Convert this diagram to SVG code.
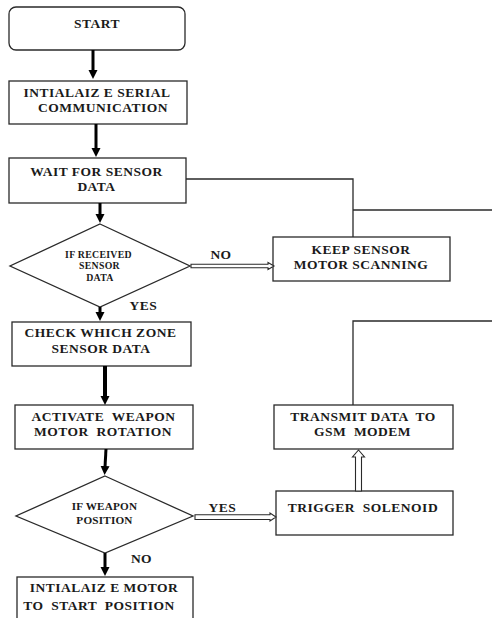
<svg xmlns="http://www.w3.org/2000/svg" width="492" height="618" viewBox="0 0 492 618">
<style>
.box{fill:#fff;stroke:#2a2a2a;stroke-width:1.3}
.t{font-family:"Liberation Serif","Times New Roman",serif;font-weight:bold;font-size:13.5px;letter-spacing:0.5px;fill:#1a1a1a;text-anchor:middle;white-space:pre}
.s{font-size:9.8px;letter-spacing:0.3px}
.m{font-size:11.2px;letter-spacing:0.2px}
.ln{fill:none;stroke:#2a2a2a;stroke-width:1.3}
.ar{stroke:#000;stroke-width:3;fill:none}
.hol{fill:#fff;stroke:#2a2a2a;stroke-width:1.1}
</style>
<defs>
<marker id="ah" markerUnits="userSpaceOnUse" markerWidth="10" markerHeight="10" refX="1" refY="4.5" orient="auto">
<path d="M0,0 L9,4.5 L0,9 z" fill="#000"/>
</marker>
</defs>
<rect width="492" height="618" fill="#fff"/>
<g id="start"><rect class="box" x="9" y="7" width="176" height="43" rx="7"/><text class="t" x="97" y="28">START</text></g>
<g id="init-serial"><rect class="box" x="9" y="81" width="178" height="43"/><text class="t" x="97" y="97">INTIALAIZ E SERIAL</text><text class="t" x="103" y="112">COMMUNICATION</text></g>
<g id="wait"><rect class="box" x="9" y="158" width="177" height="45"/><text class="t" x="96.5" y="176">WAIT FOR SENSOR</text><text class="t" x="96.5" y="191">DATA</text></g>
<g id="if-received"><polygon class="box" points="100,224 190,266 100,307 10,266"/><text class="t s" x="98.5" y="258">IF RECEIVED</text><text class="t s" x="99.5" y="269">SENSOR</text><text class="t s" x="100" y="280.5">DATA</text></g>
<g id="keep"><rect class="box" x="273" y="237" width="177" height="44"/><text class="t" x="361" y="254">KEEP SENSOR</text><text class="t" x="361" y="269">MOTOR SCANNING</text></g>
<g id="check"><rect class="box" x="12" y="322" width="179" height="44"/><text class="t" x="100.5" y="337">CHECK WHICH ZONE</text><text class="t" x="101" y="353">SENSOR DATA</text></g>
<g id="activate"><rect class="box" x="15" y="405" width="178" height="44"/><text class="t" x="103.5" y="421">ACTIVATE  WEAPON</text><text class="t" x="103" y="436">MOTOR  ROTATION</text></g>
<g id="transmit"><rect class="box" x="274" y="405" width="179" height="44"/><text class="t" x="363" y="421">TRANSMIT DATA  TO</text><text class="t" x="362.5" y="436">GSM  MODEM</text></g>
<g id="if-weapon"><polygon class="box" points="105,476 193,516 105,553 16,516"/><text class="t m" x="104.5" y="510">IF WEAPON</text><text class="t m" x="104.5" y="523.5">POSITION</text></g>
<g id="trigger"><rect class="box" x="276" y="491" width="177" height="44"/><text class="t" x="363" y="511.5">TRIGGER  SOLENOID</text></g>
<g id="init-motor"><rect class="box" x="17" y="577" width="176" height="60"/><text class="t" x="104" y="592">INTIALAIZ E MOTOR</text><text class="t" x="99" y="609.5">TO  START  POSITION</text></g>
<g id="connectors">
<line class="ar" x1="93" y1="50" x2="93" y2="71" marker-end="url(#ah)"/>
<line class="ar" x1="96" y1="124" x2="96" y2="149" marker-end="url(#ah)"/>
<line class="ar" x1="100" y1="203" x2="100" y2="215" marker-end="url(#ah)"/>
<line class="ar" x1="100" y1="307" x2="100" y2="313" marker-end="url(#ah)"/>
<line class="ar" x1="105" y1="366" x2="105" y2="397" marker-end="url(#ah)" style="stroke-width:4"/>
<line class="ar" x1="106" y1="449" x2="105" y2="467" marker-end="url(#ah)"/>
<line class="ar" x1="105" y1="553" x2="105" y2="568" marker-end="url(#ah)"/>
<polyline class="ln" points="186,179 353,179 353,237"/>
<line class="ln" x1="353" y1="210" x2="492" y2="210"/>
<polyline class="ln" points="353,405 353,321 492,321"/>
<polygon class="hol" points="191,264.3 268,264.3 268,262.5 274,266 268,269.5 268,267.7 191,267.7"/>
<polygon class="hol" points="195,514.8 270,514.8 270,513 276,517 270,521 270,519.5 195,519.5"/>
<polygon class="hol" points="355.5,491 355.5,457 352.5,457 358.5,450 364.5,457 361.5,457 361.5,491"/>
<text class="t" x="221" y="258.5">NO</text>
<text class="t" x="143.5" y="309.5">YES</text>
<text class="t" x="222.5" y="512">YES</text>
<text class="t" x="141.5" y="562.5">NO</text>
</g>
</svg>
